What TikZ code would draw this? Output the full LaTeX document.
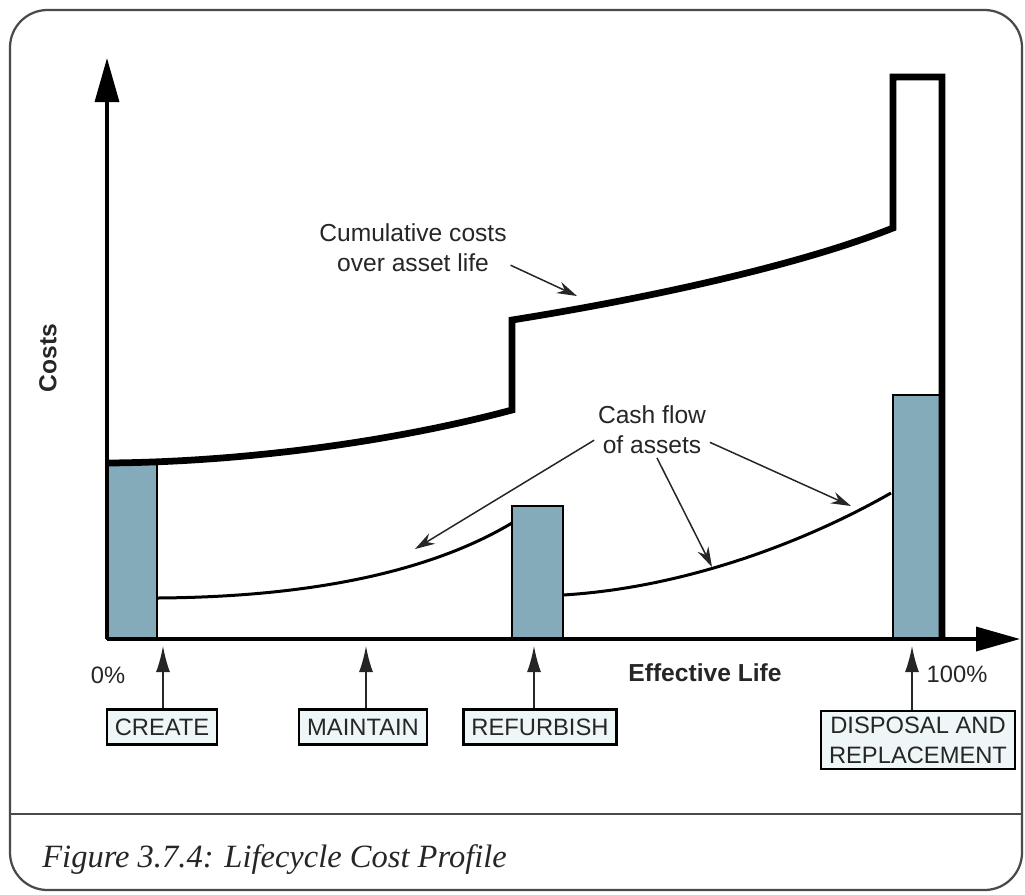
\documentclass[tikz,border=0pt]{standalone}
\usepackage{fontspec}
\setsansfont{Liberation Sans}
\newfontfamily\leyendafont{Liberation Serif}
\usepackage{tikz}
\usetikzlibrary{arrows.meta}
\definecolor{barra}{HTML}{84ABB9}
\definecolor{cajafondo}{HTML}{EEF6F8}
\definecolor{marcogris}{HTML}{4A4A4A}
\definecolor{tinta}{HTML}{262626}
\pgfdeclarelayer{barras_layer}
\pgfsetlayers{barras_layer,main}
\tikzstyle{none}=[inner sep=0pt]
\tikzstyle{marco}=[draw=marcogris,line width=0.45mm,rounded corners=7.5mm]
\tikzstyle{separador}=[draw=marcogris,line width=0.45mm]
\tikzstyle{leyenda}=[anchor=west,inner sep=0pt,text=tinta,font=\leyendafont\itshape\fontsize{18.5}{21}\selectfont]
\tikzstyle{barra}=[draw=black,fill=barra,line width=0.4mm]
\tikzstyle{eje}=[draw=black,line width=0.7mm,-{Triangle[length=8.8mm,width=4.8mm]}]
\tikzstyle{acumulado}=[draw=black,line width=1.35mm,line join=miter]
\tikzstyle{caja}=[draw=black,line width=0.6mm]
\tikzstyle{anotacion}=[text=tinta,font=\sffamily\fontsize{14}{17}\selectfont,align=center,inner sep=2pt]
\tikzstyle{ejes}=[text=tinta,font=\sffamily\bfseries\fontsize{14}{17}\selectfont,inner sep=2pt]
\tikzstyle{texto}=[text=tinta,font=\sffamily\fontsize{13.5}{16}\selectfont,inner sep=2pt]
\tikzstyle{fase}=[draw=black,fill=cajafondo,line width=0.45mm,text=tinta,font=\sffamily\fontsize{13.5}{17}\selectfont,align=center,inner xsep=1.6mm,inner ysep=1.2mm,minimum height=7mm]
\tikzstyle{flecha}=[draw=tinta,line width=0.3mm,-{Stealth[length=4mm,width=2.4mm]}]
\tikzstyle{flecha_fase}=[draw=tinta,line width=0.3mm,-{Latex[length=5.2mm,width=2.8mm]}]

\begin{document}
\begin{tikzpicture}[x=0.2mm,y=-0.2mm]
		\useasboundingbox (0,0) rectangle (1025,894);
		\draw [style=marco] (10,10) rectangle (1022,890);
		\coordinate (sep_izq) at (10,814);
		\coordinate (sep_der) at (1022,814);
		\path [style=separador] (sep_izq) -- (sep_der);
		\node [style=leyenda] (titulo) at (42,860) {Figure 3.7.4: Lifecycle Cost Profile};
		\begin{pgfonlayer}{barras_layer}
			\draw [style=barra] (107,463) rectangle (157,639);
			\draw [style=barra] (512,506) rectangle (563,639);
			\draw [style=barra] (893,395) rectangle (942,639);
		\end{pgfonlayer}
		\coordinate (origen) at (107,639);
		\coordinate (tope_y) at (107,58);
		\coordinate (tope_x) at (1020,639);
		\path [style=eje] (origen) -- (tope_y);
		\path [style=eje] (origen) -- (tope_x);
		\draw [style=acumulado] (107,463) .. controls (250,462) and (400,440) .. (512,410) -- (512,320) .. controls (650,298) and (800,265) .. (893,228) -- (893,77) -- (942,77) -- (942,639);
		\draw [style=caja] (157,598) .. controls (310,597) and (430,572) .. (512,523);
		\draw [style=caja] (563,595) .. controls (680,588) and (800,545) .. (891,493);
		\node [style=ejes,rotate=90] (costes) at (48,358) {Costs};
		\node [style=ejes] (vida) at (705,673) {Effective Life};
		\node [style=texto] (cero) at (108,675) {0\%};
		\node [style=texto] (cien) at (957,674) {100\%};
		\node [style=anotacion] (acumulado) at (413,248) {Cumulative costs\\over asset life};
		\node [style=anotacion] (flujo) at (652,430) {Cash flow\\of assets};
		\coordinate (p_acum) at (577,296);
		\coordinate (p_caja1) at (415,549);
		\coordinate (p_caja2) at (712,567);
		\coordinate (p_caja3) at (851,506);
		\path [style=flecha] (acumulado.-10) -- (p_acum);
		\path [style=flecha] (flujo.190) -- (p_caja1);
		\path [style=flecha] (flujo.-80) -- (p_caja2);
		\path [style=flecha] (flujo.-12) -- (p_caja3);
		\node [style=fase] (crear) at (162,727) {CREATE};
		\node [style=fase] (mantener) at (363,727) {MAINTAIN};
		\node [style=fase] (renovar) at (540,727) {REFURBISH};
		\node [style=fase] (reponer) at (918,740) {DISPOSAL AND\\REPLACEMENT};
		\coordinate (t_crear) at (163,646);
		\coordinate (t_mantener) at (366,646);
		\coordinate (t_renovar) at (534,646);
		\coordinate (t_reponer) at (912,646);
		\path [style=flecha_fase] (crear.north -| t_crear) -- (t_crear);
		\path [style=flecha_fase] (mantener.north -| t_mantener) -- (t_mantener);
		\path [style=flecha_fase] (renovar.north -| t_renovar) -- (t_renovar);
		\path [style=flecha_fase] (reponer.north -| t_reponer) -- (t_reponer);
\end{tikzpicture}
\end{document}
